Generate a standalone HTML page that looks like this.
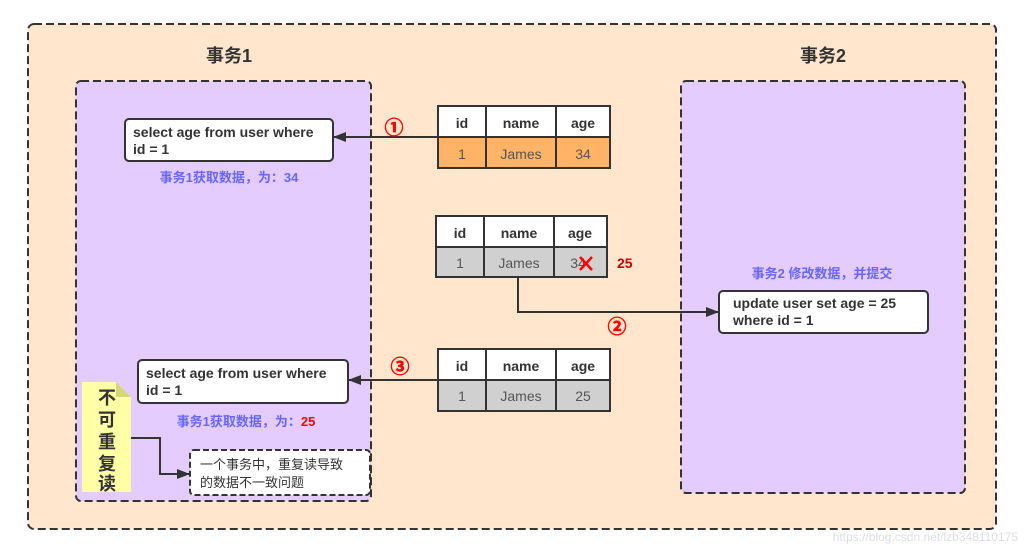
<!DOCTYPE html>
<html><head><meta charset="utf-8"><style>
html,body{margin:0;padding:0;background:#fff;}
svg{display:block;}
text{font-family:"Liberation Sans","Noto Sans CJK SC",sans-serif;}
</style></head><body>
<svg width="1028" height="556" viewBox="0 0 1028 556" xmlns="http://www.w3.org/2000/svg">
<defs>
<marker id="ar" markerWidth="13" markerHeight="10" refX="12" refY="5" orient="auto" markerUnits="userSpaceOnUse">
<path d="M0,0 L13,5 L0,10 Z" fill="#333"/></marker>
</defs>
<rect x="28" y="24" width="968" height="505" rx="6" fill="#FFE6CC" stroke="#333" stroke-width="2" stroke-dasharray="8,4"/>
<text x="229" y="62" font-size="18" font-weight="bold" fill="#333" text-anchor="middle">事务1</text>
<text x="823" y="62" font-size="18" font-weight="bold" fill="#333" text-anchor="middle">事务2</text>
<rect x="76" y="81" width="295" height="420" rx="5" fill="#E5CCFF" stroke="#333" stroke-width="2" stroke-dasharray="8,4"/>
<rect x="681" y="81" width="284" height="412" rx="5" fill="#E5CCFF" stroke="#333" stroke-width="2" stroke-dasharray="8,4"/>

<rect x="125" y="119" width="208" height="42" rx="4" fill="#fff" stroke="#333" stroke-width="2"/>
<text x="133" y="137" font-size="14" font-weight="bold" fill="#333">select age from user where</text>
<text x="133" y="154" font-size="14" font-weight="bold" fill="#333">id = 1</text>
<text x="229" y="182" font-size="13" font-weight="bold" fill="#6666FF" text-anchor="middle">事务1获取数据，为：34</text>

<rect x="138" y="360" width="210" height="43" rx="4" fill="#fff" stroke="#333" stroke-width="2"/>
<text x="146" y="378" font-size="14" font-weight="bold" fill="#333">select age from user where</text>
<text x="146" y="395" font-size="14" font-weight="bold" fill="#333">id = 1</text>
<text x="246" y="426" font-size="13" font-weight="bold" fill="#6666FF" text-anchor="middle">事务1获取数据，为：<tspan fill="#FF0000">25</tspan></text>

<text x="822" y="278" font-size="13" font-weight="bold" fill="#6666FF" text-anchor="middle">事务2 修改数据，并提交</text>
<rect x="719" y="291" width="209" height="42" rx="4" fill="#fff" stroke="#333" stroke-width="2"/>
<text x="733" y="308" font-size="14" font-weight="bold" fill="#333">update user set age = 25</text>
<text x="733" y="325" font-size="14" font-weight="bold" fill="#333">where id = 1</text>

<g stroke="#333" stroke-width="2">
<rect x="438" y="106" width="172" height="31" fill="#fff"/>
<rect x="438" y="137" width="172" height="31" fill="#FFB366"/>
<line x1="486" y1="106" x2="486" y2="168"/><line x1="556" y1="106" x2="556" y2="168"/>
</g>
<g font-size="14" text-anchor="middle" fill="#333">
<text x="462" y="128" font-weight="bold">id</text><text x="521" y="128" font-weight="bold">name</text><text x="583" y="128" font-weight="bold">age</text>
<text x="462" y="159" fill="#555">1</text><text x="521" y="159" fill="#555">James</text><text x="583" y="159" fill="#555">34</text>
</g>
<g stroke="#333" stroke-width="2">
<rect x="436" y="216" width="171" height="31" fill="#fff"/>
<rect x="436" y="247" width="171" height="30" fill="#D0D0D0"/>
<line x1="484" y1="216" x2="484" y2="277"/><line x1="554" y1="216" x2="554" y2="277"/>
</g>
<g font-size="14" text-anchor="middle" fill="#333">
<text x="460" y="238" font-weight="bold">id</text><text x="519" y="238" font-weight="bold">name</text><text x="580" y="238" font-weight="bold">age</text>
<text x="460" y="268" fill="#555">1</text><text x="519" y="268" fill="#555">James</text><text x="578" y="268" fill="#555">34</text>
</g>
<path d="M580,257 L592,270 M592,257 L580,270" stroke="#FF0000" stroke-width="2.5"/>
<text x="617" y="268" font-size="14" font-weight="bold" fill="#CC0000">25</text>
<g stroke="#333" stroke-width="2">
<rect x="438" y="349" width="172" height="31" fill="#fff"/>
<rect x="438" y="380" width="172" height="31" fill="#D0D0D0"/>
<line x1="486" y1="349" x2="486" y2="411"/><line x1="556" y1="349" x2="556" y2="411"/>
</g>
<g font-size="14" text-anchor="middle" fill="#333">
<text x="462" y="371" font-weight="bold">id</text><text x="521" y="371" font-weight="bold">name</text><text x="583" y="371" font-weight="bold">age</text>
<text x="462" y="401" fill="#555">1</text><text x="521" y="401" fill="#555">James</text><text x="583" y="401" fill="#555">25</text>
</g>

<g stroke="#333" stroke-width="2" fill="none">
<path d="M438,137 L334,137" marker-end="url(#ar)"/>
<path d="M518,277 L518,312 L718,312" marker-end="url(#ar)"/>
<path d="M438,380 L349,380" marker-end="url(#ar)"/>
<path d="M131,438 L160,438 L160,474 L189,474" marker-end="url(#ar)"/>
</g>
<g font-size="19" font-weight="bold" fill="#FF0000" text-anchor="middle" stroke="#FF0000" stroke-width="0.6">
<text x="394" y="134">①</text>
<text x="617" y="333">②</text>
<text x="400" y="373">③</text>
</g>

<path d="M82,382 L116,382 L131,397 L131,492 L82,492 Z" fill="#FFFFA6"/>
<path d="M116,382 L131,397 L116,397 Z" fill="#D6D67A"/>
<g font-size="18" font-weight="bold" fill="#333" text-anchor="middle">
<text x="107" y="404">不</text><text x="107" y="426">可</text><text x="107" y="448">重</text><text x="107" y="470">复</text><text x="107" y="490">读</text>
</g>
<rect x="190" y="450" width="180" height="45" rx="4" fill="#fff" stroke="#333" stroke-width="2" stroke-dasharray="6,3"/>
<text x="200" y="469" font-size="13" fill="#333">一个事务中，重复读导致</text>
<text x="200" y="487" font-size="13" fill="#333">的数据不一致问题</text>

<text x="1018" y="541" font-size="12" fill="#ddd" text-anchor="end">https://blog.csdn.net/lzb348110175</text>
</svg>
</body></html>
